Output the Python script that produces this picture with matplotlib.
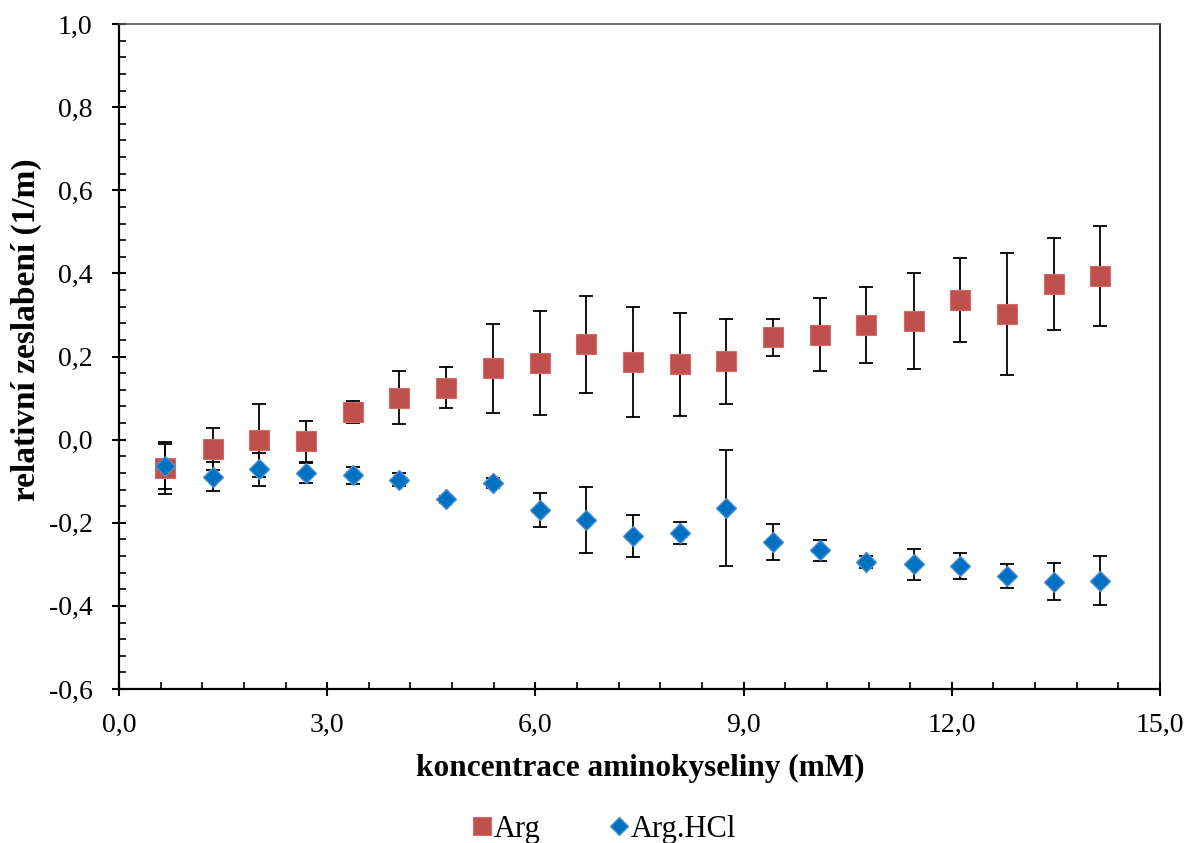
import matplotlib
matplotlib.use("Agg")
import matplotlib.pyplot as plt
from matplotlib.ticker import MultipleLocator, FuncFormatter
import numpy as np

plt.rcParams['font.family'] = ['Liberation Serif', 'DejaVu Serif']

conc = [0.67, 1.35, 2.02, 2.69, 3.37, 4.04, 4.71, 5.39, 6.06, 6.73, 7.41,
        8.08, 8.75, 9.43, 10.10, 10.77, 11.45, 12.12, 12.79, 13.47, 14.14]

arg = [-0.068, -0.023, -0.002, -0.004, 0.067, 0.101, 0.125, 0.172, 0.184, 0.229, 0.187,
       0.181, 0.188, 0.246, 0.252, 0.276, 0.286, 0.336, 0.302, 0.374, 0.394]
arg_err = [0.062, 0.05, 0.088, 0.05, 0.027, 0.063, 0.049, 0.107, 0.125, 0.117, 0.133,
           0.124, 0.102, 0.045, 0.088, 0.092, 0.116, 0.102, 0.147, 0.11, 0.121]

hcl = [-0.064, -0.089, -0.071, -0.080, -0.086, -0.096, -0.144, -0.105, -0.169, -0.193, -0.232,
       -0.224, -0.165, -0.247, -0.266, -0.295, -0.300, -0.304, -0.328, -0.342, -0.340]
hcl_err = [0.054, 0.034, 0.04, 0.024, 0.02, 0.016, 0.008, 0.012, 0.041, 0.08, 0.05,
           0.027, 0.14, 0.043, 0.025, 0.014, 0.037, 0.032, 0.028, 0.044, 0.059]

W, H = 1192, 843
fig = plt.figure(figsize=(W/100, H/100), dpi=100)
ax = fig.add_axes([119/W, 1-689/H, (1160-119)/W, (689-24)/H])

ax.errorbar(conc, arg, yerr=arg_err, fmt='none', ecolor='black', elinewidth=1.3,
            capsize=5, capthick=1.3, zorder=2)
ax.errorbar(conc, hcl, yerr=hcl_err, fmt='none', ecolor='black', elinewidth=1.3,
            capsize=5, capthick=1.3, zorder=2)
ax.plot(conc, arg, linestyle='none', marker='s', markersize=14, markerfacecolor='#C0504D',
        markeredgecolor='#D36C69', markeredgewidth=0.8, label='Arg', zorder=3)
ax.plot(conc, hcl, linestyle='none', marker='D', markersize=10, markerfacecolor='#0070C0',
        markeredgecolor='#4F8FD0', markeredgewidth=1.0, label='Arg.HCl', zorder=4)

ax.set_xlim(0, 15)
ax.set_ylim(-0.6, 1.0)
ax.xaxis.set_major_locator(MultipleLocator(3))
ax.xaxis.set_minor_locator(MultipleLocator(0.6))
ax.yaxis.set_major_locator(MultipleLocator(0.2))
ax.yaxis.set_minor_locator(MultipleLocator(0.04))
fmt = FuncFormatter(lambda v, p: ('%.1f' % v).replace('.', ',').replace('-0,0', '0,0'))
ax.xaxis.set_major_formatter(fmt)
ax.yaxis.set_major_formatter(fmt)

ax.tick_params(which='major', direction='inout', length=10, width=1.5, labelsize=20,
               top=False, right=False)
ax.tick_params(axis='y', which='major', pad=14)
ax.tick_params(axis='x', which='major', pad=12)
ax.tick_params(which='minor', direction='in', length=5, width=1.2, top=False, right=False)
for s in ['left', 'bottom']:
    ax.spines[s].set_linewidth(1.6)
ax.spines['right'].set_linewidth(1.2)
ax.spines['top'].set_linewidth(1.2)
ax.spines['top'].set_color('#555555')

fig.text(640/W, 1-768/H, 'koncentrace aminokyseliny (mM)', fontsize=22.5, fontweight='bold',
         ha='center', va='center')
fig.text(26/W, 1-330/H, 'relativní zeslabení (1/m)', fontsize=24, fontweight='bold',
         ha='center', va='center', rotation=90)

fig.legend(loc='center', bbox_to_anchor=(603/W, 1-829/H), ncol=2, frameon=False,
           fontsize=22, handletextpad=0.0, columnspacing=2.2, handlelength=0.75,
           markerscale=0.93)

fig.savefig('out.png', dpi=100)
